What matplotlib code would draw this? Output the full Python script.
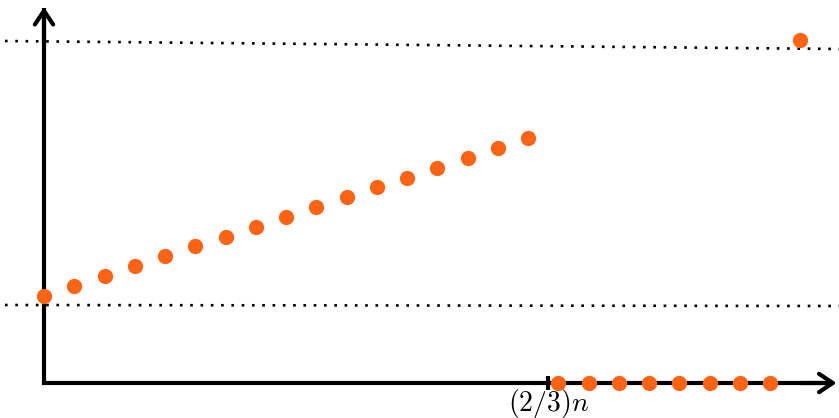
import matplotlib
matplotlib.use("Agg")
import matplotlib.pyplot as plt

plt.rcParams['mathtext.fontset'] = 'cm'

# --- data ---
n = 25
rise_idx = list(range(0, 17))
rise_vals = [87, 97, 107, 117, 127, 137, 146, 156, 166, 176, 186, 196, 205, 215, 225, 235, 245]
zero_idx = list(range(17, 25))
zero_vals = [0, 0, 0, 0, 0, 0, 0, 0]
last_idx = [25]
last_vals = [343]
upper_ref = [342, 334]      # dotted line (left, right)
lower_ref = [78, 77]        # dotted line (left, right)
ref_x = [-1.29, 26.28]
tick_pos = [2 * n / 3]
tick_labels = [r'$(2/3)n$']

orange = '#ff6414'

fig = plt.figure(figsize=(8.39, 4.18), dpi=100)
ax = fig.add_axes([0, 0, 1, 1])
ax.set_xlim(-44 / 30.25, (839 - 44) / 30.25)
ax.set_ylim(-35, 383)
ax.axis('off')

# dotted reference lines
ax.plot(ref_x, upper_ref, color='black', lw=1.9, ls=(0, (1, 2.9)), zorder=1)
ax.plot(ref_x, lower_ref, color='black', lw=1.9, ls=(0, (1, 2.9)), zorder=1)

# axes (L-shaped polyline) with arrowheads
ax.plot([0, 0, 26.1], [375, 0, 0], color='black', lw=3, solid_joinstyle='miter',
        solid_capstyle='butt', zorder=2)
arrow = dict(arrowstyle='->,head_length=0.45,head_width=0.3', lw=3, color='black',
             mutation_scale=22, shrinkA=0, shrinkB=0)
ax.annotate('', xy=(0, 376), xytext=(0, 340), arrowprops=arrow, zorder=2)
ax.annotate('', xy=(26.2, 0), xytext=(25.0, 0), arrowprops=arrow, zorder=2)

# tick
for t, lab in zip(tick_pos, tick_labels):
    ax.plot([t, t], [7, -7], color='black', lw=3, solid_capstyle='butt', zorder=2)
    ax.text(t, -4, lab, ha='center', va='top', fontsize=20, zorder=2)

ms = 11
ax.plot(rise_idx, rise_vals, 'o', color=orange, ms=ms, mec='none', zorder=3)
ax.plot(zero_idx, zero_vals, 'o', color=orange, ms=ms, mec='none', zorder=3)
ax.plot(last_idx, last_vals, 'o', color=orange, ms=ms, mec='none', zorder=3)

fig.savefig('out.png', dpi=100)
